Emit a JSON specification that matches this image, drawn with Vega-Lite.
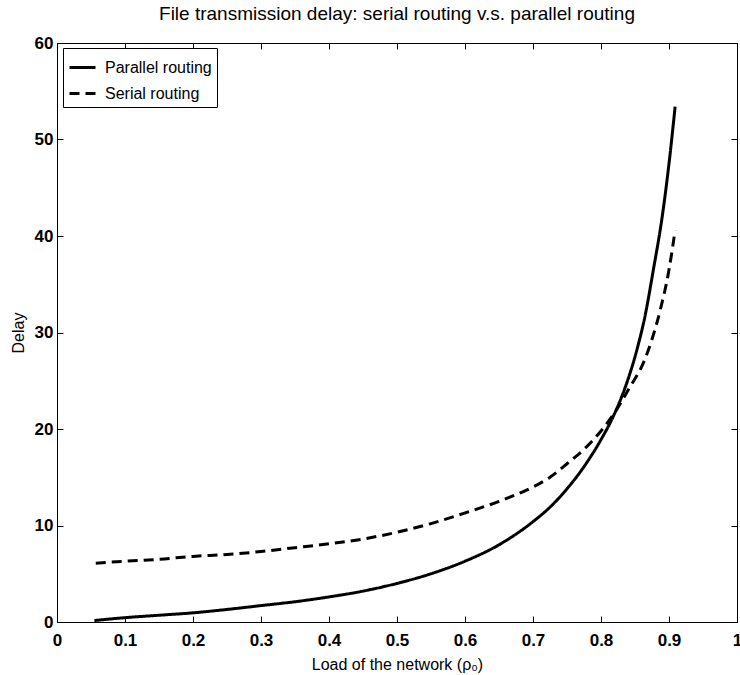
{
  "$schema": "https://vega.github.io/schema/vega-lite/v6.json",
  "autosize": "none",
  "padding": {"left": 57, "top": 43, "right": 3, "bottom": 53},
  "width": 680,
  "height": 579,
  "background": "white",
  "title": {"text": "File transmission delay: serial routing v.s. parallel routing", "font": "Liberation Sans", "fontSize": 19, "fontWeight": "normal", "color": "black", "offset": 10, "anchor": "middle"},
  "config": {
    "view": {"stroke": "black", "strokeWidth": 1},
    "axis": {"grid": false, "domainColor": "black", "tickColor": "black", "tickSize": -6, "tickWidth": 1, "labelColor": "black", "labelFont": "Liberation Sans", "labelFontSize": 17, "labelFontWeight": "bold", "titleFont": "Liberation Sans", "titleFontSize": 16, "titleFontWeight": "normal", "titleColor": "black"}
  },
  "datasets": {
    "d": [
      {"load": 0.055, "delay": 0.15, "routing": "Parallel routing"},
      {"load": 0.1, "delay": 0.45, "routing": "Parallel routing"},
      {"load": 0.15, "delay": 0.7, "routing": "Parallel routing"},
      {"load": 0.2, "delay": 0.95, "routing": "Parallel routing"},
      {"load": 0.25, "delay": 1.3, "routing": "Parallel routing"},
      {"load": 0.3, "delay": 1.7, "routing": "Parallel routing"},
      {"load": 0.35, "delay": 2.1, "routing": "Parallel routing"},
      {"load": 0.4, "delay": 2.6, "routing": "Parallel routing"},
      {"load": 0.45, "delay": 3.2, "routing": "Parallel routing"},
      {"load": 0.5, "delay": 4.0, "routing": "Parallel routing"},
      {"load": 0.55, "delay": 5.0, "routing": "Parallel routing"},
      {"load": 0.6, "delay": 6.3, "routing": "Parallel routing"},
      {"load": 0.65, "delay": 8.0, "routing": "Parallel routing"},
      {"load": 0.7, "delay": 10.4, "routing": "Parallel routing"},
      {"load": 0.725, "delay": 11.9, "routing": "Parallel routing"},
      {"load": 0.75, "delay": 13.8, "routing": "Parallel routing"},
      {"load": 0.775, "delay": 16.1, "routing": "Parallel routing"},
      {"load": 0.8, "delay": 18.9, "routing": "Parallel routing"},
      {"load": 0.818, "delay": 21.3, "routing": "Parallel routing"},
      {"load": 0.835, "delay": 24.2, "routing": "Parallel routing"},
      {"load": 0.85, "delay": 27.5, "routing": "Parallel routing"},
      {"load": 0.865, "delay": 31.8, "routing": "Parallel routing"},
      {"load": 0.877, "delay": 36.5, "routing": "Parallel routing"},
      {"load": 0.89, "delay": 42.0, "routing": "Parallel routing"},
      {"load": 0.9, "delay": 47.5, "routing": "Parallel routing"},
      {"load": 0.909, "delay": 53.4, "routing": "Parallel routing"},
      {"load": 0.057, "delay": 6.1, "routing": "Serial routing"},
      {"load": 0.1, "delay": 6.3, "routing": "Serial routing"},
      {"load": 0.15, "delay": 6.5, "routing": "Serial routing"},
      {"load": 0.2, "delay": 6.8, "routing": "Serial routing"},
      {"load": 0.25, "delay": 7.0, "routing": "Serial routing"},
      {"load": 0.3, "delay": 7.3, "routing": "Serial routing"},
      {"load": 0.35, "delay": 7.7, "routing": "Serial routing"},
      {"load": 0.4, "delay": 8.1, "routing": "Serial routing"},
      {"load": 0.45, "delay": 8.6, "routing": "Serial routing"},
      {"load": 0.5, "delay": 9.3, "routing": "Serial routing"},
      {"load": 0.55, "delay": 10.2, "routing": "Serial routing"},
      {"load": 0.6, "delay": 11.3, "routing": "Serial routing"},
      {"load": 0.65, "delay": 12.5, "routing": "Serial routing"},
      {"load": 0.7, "delay": 14.0, "routing": "Serial routing"},
      {"load": 0.725, "delay": 15.0, "routing": "Serial routing"},
      {"load": 0.75, "delay": 16.4, "routing": "Serial routing"},
      {"load": 0.775, "delay": 17.9, "routing": "Serial routing"},
      {"load": 0.8, "delay": 19.8, "routing": "Serial routing"},
      {"load": 0.82, "delay": 21.7, "routing": "Serial routing"},
      {"load": 0.843, "delay": 24.4, "routing": "Serial routing"},
      {"load": 0.862, "delay": 26.8, "routing": "Serial routing"},
      {"load": 0.875, "delay": 29.3, "routing": "Serial routing"},
      {"load": 0.887, "delay": 32.3, "routing": "Serial routing"},
      {"load": 0.9, "delay": 36.5, "routing": "Serial routing"},
      {"load": 0.909, "delay": 40.6, "routing": "Serial routing"}
    ]
  },
  "data": {"name": "d"},
  "resolve": {"axis": {"x": "independent", "y": "independent"}},
  "layer": [
    {
      "mark": {"type": "line", "color": "black", "strokeWidth": 3, "interpolate": "monotone"},
      "encoding": {
        "x": {"field": "load", "type": "quantitative", "scale": {"domain": [0, 1], "nice": false}, "axis": {"title": "Load of the network (ρ₀)", "values": [0, 0.1, 0.2, 0.3, 0.4, 0.5, 0.6, 0.7, 0.8, 0.9, 1], "format": "~g", "labelPadding": 16, "titlePadding": 8, "labelFlush": false}},
        "y": {"field": "delay", "type": "quantitative", "scale": {"domain": [0, 60], "nice": false}, "axis": {"title": "Delay", "values": [0, 10, 20, 30, 40, 50, 60], "labelPadding": 10, "titlePadding": 8, "labelFlush": false}},
        "strokeDash": {"field": "routing", "type": "nominal", "scale": {"domain": ["Parallel routing", "Serial routing"], "range": [[1, 0], [10, 6]]}, "legend": {"title": null, "orient": "none", "legendX": 6, "legendY": 5, "strokeColor": "black", "fillColor": "white", "padding": 5, "symbolType": "stroke", "symbolSize": 676, "symbolStrokeWidth": 3, "symbolStrokeColor": "black", "labelFont": "Liberation Sans", "labelFontSize": 16, "labelColor": "black", "labelOffset": 8, "rowPadding": 3, "cornerRadius": 0}},
        "detail": {"field": "routing"}
      }
    },
    {
      "mark": {"type": "line", "opacity": 0},
      "encoding": {
        "x": {"field": "load", "type": "quantitative", "axis": {"orient": "top", "labels": false, "title": null, "values": [0, 0.1, 0.2, 0.3, 0.4, 0.5, 0.6, 0.7, 0.8, 0.9, 1]}},
        "y": {"field": "delay", "type": "quantitative", "axis": {"orient": "right", "labels": false, "title": null, "values": [0, 10, 20, 30, 40, 50, 60]}},
        "detail": {"field": "routing"}
      }
    }
  ]
}
